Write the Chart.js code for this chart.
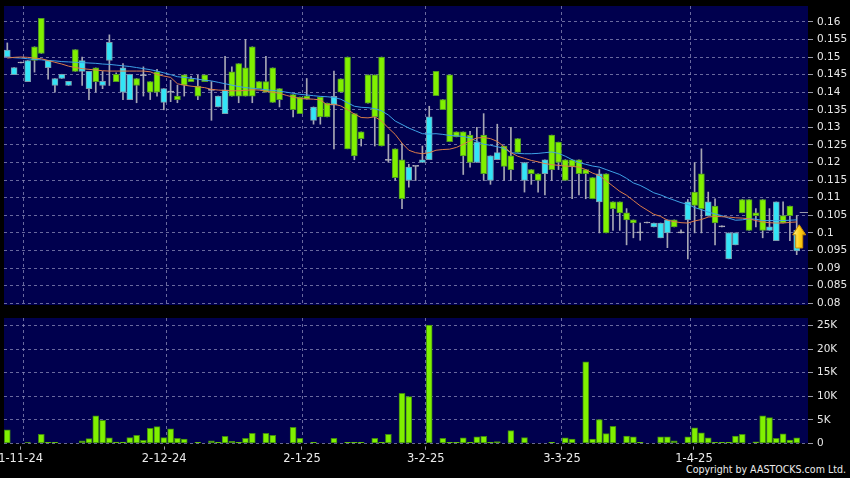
<!DOCTYPE html>
<html>
<head>
<meta charset="utf-8">
<script src="https://cdn.jsdelivr.net/npm/chart.js@4.4.1/dist/chart.umd.min.js"></script>
<style>
  html, body { margin:0; padding:0; background:#000; width:850px; height:478px; overflow:hidden; }
  #p1 { position:absolute; left:0; top:0; width:850px; height:312px; z-index:2; }
  #p2 { position:absolute; left:0; top:310px; width:850px; height:168px; z-index:1; }
  #cr { position:absolute; left:686px; top:464px; font:10px "DejaVu Sans"; color:#ececec; white-space:nowrap; transform-origin:0 0; }
</style>
</head>
<body>
<div id="p1"><canvas id="c1"></canvas></div>
<div id="p2"><canvas id="c2"></canvas></div>
<div id="cr">Copyright by AASTOCKS.com Ltd.</div>
<script>
// ---------------- DATA (one entry per trading slot; null = no trade) ----------------
const openP = [
 .152,.147,.1483,.149,.149,.151,.149,.1439,.1451,.1431,
 .1459,.149,.1459,.143,.1431,.1542,.143,.1469,.1451,.1419,
 .1447,.140,.140,.141,.140,.1379,.142,.143,.1389,.143,
 .1405,.1389,.1407,.1389,.1389,.1389,.1389,.141,.140,.1371,
 .1379,null,.135,.1339,.138,.1358,.133,.133,.1388,.140,
 .1239,.1219,.1268,.1369,.133,.1247,.1206,.1157,.1097,.1187,
 .1189,.1208,.133,.139,.135,.1259,.1273,.1219,.120,.1258,
 .1168,.1219,.1228,.1189,.118,.1229,.120,.1168,.1149,.1208,
 .118,.120,.1149,.1189,.1168,.1168,.1097,.1168,.100,.1069,
 .1057,.1037,.1028,.100,.1028,.1028,.1028,.1037,.1017,.100,
 .1088,.1078,.1069,.1088,.1028,.1017,.100,.100,.1057,.1007,
 .1049,.1007,.1017,.1088,.1028,.1049,.1007];
const highP = [
 .154,.147,.1483,.149,.1529,.161,.149,.1439,.1451,.1431,
 .1521,.150,.1459,.1469,.1459,.1563,.1455,.1481,.1451,.1439,
 .1472,.143,.1465,.141,.1434,.142,.1449,.1445,.1448,.1449,
 .143,.1389,.1502,.1472,.1481,.155,.1529,.143,.1502,.1469,
 .141,null,.1393,.1386,.1439,.1358,.1386,.1369,.146,.1438,
 .150,.1339,.1287,.1449,.1449,.150,.128,.1239,.1254,.1195,
 .1189,.1247,.136,.1459,.1379,.1449,.1287,.1287,.1289,.130,
 .1339,.1219,.1309,.1247,.130,.1268,.120,.118,.1168,.1208,
 .1278,.1258,.1208,.1208,.1208,.118,.1157,.118,.1168,.1088,
 .1088,.1069,.1037,.1028,.1028,.1028,.1028,.1037,.1037,.1009,
 .1095,.120,.1239,.1116,.1097,.1017,.100,.100,.1095,.1095,
 .1069,.1095,.1069,.1088,.1088,.1076,.1049];
const lowP = [
 .150,.145,.1483,.143,.1457,.151,.1437,.140,.1439,.1419,
 .1459,.1419,.1379,.140,.141,.1419,.143,.1379,.1379,.137,
 .1389,.1379,.1389,.135,.1373,.137,.1389,.143,.1379,.143,
 .132,.1358,.1339,.1389,.137,.1389,.137,.141,.140,.1371,
 .1358,null,.133,.1339,.138,.1309,.1309,.133,.1239,.140,
 .1239,.1208,.1247,.1369,.1247,.1247,.1201,.1149,.1069,.113,
 .1149,.120,.1208,.139,.135,.1259,.1273,.1166,.1187,.120,
 .1149,.1138,.1208,.1149,.1149,.1229,.1116,.1138,.1116,.1108,
 .1149,.118,.1149,.1097,.1108,.1097,.1097,.100,.100,.1007,
 .1007,.0966,.0986,.0979,.1028,.1017,.0986,.0958,.1017,.100,
 .0926,.100,.100,.1048,.0966,.1017,.0926,.0966,.1057,.1007,
 .1017,.0986,.1007,.0978,.1028,.0978,.0938];
const closeP = [
 .150,.145,.1483,.143,.1529,.161,.147,.1419,.1439,.1419,
 .1521,.1459,.141,.1469,.1419,.149,.1451,.140,.1379,.1439,
 .1447,.143,.1458,.1371,.140,.1389,.1449,.1438,.1417,.1449,
 .1405,.1358,.1339,.1458,.1481,.1469,.1529,.143,.143,.1469,
 .141,null,.1393,.1386,.1389,.132,.1386,.1369,.1363,.1438,
 .150,.1339,.1287,.1449,.1449,.150,.1206,.1239,.1208,.1149,
 .1189,.120,.1208,.1459,.1379,.1449,.1287,.1287,.1278,.120,
 .1278,.1149,.1208,.1247,.1219,.1268,.1149,.118,.1168,.1168,
 .1278,.1258,.1208,.1208,.1208,.118,.1157,.1088,.1168,.1088,
 .1088,.1057,.1037,.100,.1028,.1017,.0986,.100,.1037,.100,
 .1037,.1116,.1168,.1048,.1076,.1017,.0926,.0966,.1095,.1095,
 .1057,.1095,.1007,.0978,.1049,.1076,.0949];
const volume = [
 2840,0,0,150,0,1920,200,200,0,0,
 0,500,1000,5820,4900,1140,280,280,1200,1700,
 640,3200,3550,1200,3050,1070,920,0,200,0,
 500,200,1490,430,200,1070,2130,0,2130,1700,
 0,0,3400,1070,0,200,0,0,1070,0,
 200,200,200,0,1070,200,1920,0,10650,9940,
 0,0,25140,0,1070,200,200,1140,200,1350,
 1490,200,350,0,2700,0,1200,0,0,0,
 200,0,1140,920,0,17330,920,5040,2060,3620,
 0,1560,1350,200,0,0,1350,1350,500,0,
 1350,3270,2200,1140,200,200,200,1560,1920,0,
 300,5820,5470,1070,1990,710,1140];
const ma10 = [
 .1497,.1499,.1500,.1499,.1497,.1495,.1490,.1485,.1480,.1474,
 .1470,.1467,.1465,.1463,.1461,.1460,.1460,.1460,.1460,.1460,
 .1460,.1458,.1450,.1446,.1442,.1424,.1420,.1417,.1415,.1413,
 .1408,.1406,.1405,.1404,.1404,.1405,.1407,.1406,.1403,.1400,
 .1397,.1391,.1386,.1382,.1381,.1380,.1378,.1364,.1366,.1361,
 .1350,.1338,.1328,.1327,.1330,.1318,.1298,.1280,.1255,.1235,
 .1228,.1225,.1228,.1235,.1237,.1238,.1243,.1252,.1262,.1270,
 .1271,.1268,.1260,.1245,.1228,.1218,.1212,.1206,.1202,.1197,
 .1194,.1192,.1190,.1189,.1187,.1180,.1170,.1163,.1148,.1133,
 .1118,.1107,.1092,.1077,.1065,.1053,.1047,.1036,.1032,.1029,
 .1028,.1034,.1038,.1045,.1047,.1046,.1045,.1043,.1042,.1040,
 .1035,.1031,.1029,.1028,.1028,.1030,.1031];
const ma20 = [
 .1500,.1498,.1497,.1495,.1493,.1492,.1490,.1489,.1487,.1486,
 .1485,.1484,.1483,.1482,.1480,.1479,.1477,.1475,.1473,.1470,
 .1467,.1464,.1460,.1455,.1450,.1444,.1442,.1440,.1437,.1434,
 .1432,.1428,.1424,.1420,.1416,.1413,.1411,.1409,.1407,.1405,
 .1403,.1400,.1397,.1394,.1392,.1390,.1388,.1387,.1385,.1380,
 .1370,.1360,.1357,.1356,.1353,.1347,.1335,.1318,.1308,.1298,
 .1290,.1282,.1281,.1282,.1280,.1277,.1276,.1274,.1270,.1260,
 .1252,.1249,.1245,.1240,.1228,.1226,.1225,.1225,.1226,.1228,
 .1230,.1226,.1218,.1208,.1200,.1195,.1190,.1187,.1180,.1173,
 .1166,.1155,.1142,.1135,.1125,.1114,.1108,.1100,.1093,.1086,
 .1081,.1072,.1066,.1059,.1054,.1049,.1042,.1036,.1037,.1040,
 .1039,.1035,.1035,.1035,.1035,.1036,.1037];

// axis ticks / labels
const priceTicks = [0.08,0.085,0.09,0.095,0.1,0.105,0.11,0.115,0.12,0.125,0.13,0.135,0.14,0.145,0.15,0.155,0.16];
const volTicks = [0,5000,10000,15000,20000,25000];
const volTickText = ['0','5K','10K','15K','20K','25K'];
const dateTickSlots = [1.95, 23.05, 43.3, 61.5, 81.5, 100.9];
const dateTickText = ['1-11-24','2-12-24','2-1-25','3-2-25','3-3-25','1-4-25'];
const monthGridSlots = [2.45, 23.45, 43.45, 61.45, 81.5, 100.45];
const arrowSlot = 116, arrowTop = 0.1023, arrowBottom = 0.0957;
const lastMark = 0.1058;

// ---------------- STYLE ----------------
const NAVY = '#00004e';
const GRID = 'rgba(140,140,185,0.75)';
const UPF = '#80f000', UPB = '#4f9a22';
const DNF = '#33e4f6', DNB = '#7a9cae';
const DOJI = '#b4b4bc';
const WICK = '#a6a6b4';
const XMIN = -0.485, XMAX = 117.66;
const FONT = 'DejaVu Sans';

Chart.defaults.font.family = FONT;
Chart.defaults.color = '#e8e8e8';

const bgPlugin = {
  id: 'bg',
  beforeDraw(c) {
    const { ctx, chartArea: a } = c;
    ctx.save(); ctx.fillStyle = NAVY;
    ctx.fillRect(a.left, a.top, a.right - a.left, a.bottom - a.top);
    ctx.restore();
  }
};

const arrowPlugin = {
  id: 'arrow',
  afterDatasetsDraw(c) {
    const { ctx } = c;
    const xs = c.scales.x, ys = c.scales.y;
    const cx = xs.getPixelForValue(arrowSlot) + 2.5;
    const yT = ys.getPixelForValue(arrowTop), yB = ys.getPixelForValue(arrowBottom);
    const hw = 6.5, sw = 3.5, hh = 10;
    ctx.save();
    ctx.strokeStyle = '#9a9aaa'; ctx.lineWidth = 1;
    const ly = Math.round(ys.getPixelForValue(lastMark)) + 0.5;
    ctx.beginPath(); ctx.moveTo(xs.getPixelForValue(arrowSlot) + 3, ly); ctx.lineTo(c.chartArea.right, ly); ctx.stroke();
    const g = ctx.createLinearGradient(cx - hw, 0, cx + hw, 0);
    g.addColorStop(0, '#fff59a'); g.addColorStop(0.5, '#ffd21a'); g.addColorStop(1, '#e7a400');
    ctx.fillStyle = g; ctx.strokeStyle = '#c88a00'; ctx.lineWidth = 1;
    ctx.beginPath();
    ctx.moveTo(cx, yT);
    ctx.lineTo(cx + hw, yT + hh);
    ctx.lineTo(cx + sw, yT + hh);
    ctx.lineTo(cx + sw, yB);
    ctx.lineTo(cx - sw, yB);
    ctx.lineTo(cx - sw, yT + hh);
    ctx.lineTo(cx - hw, yT + hh);
    ctx.closePath(); ctx.fill(); ctx.stroke();
    ctx.restore();
  }
};

const idx = openP.map((_, i) => i);
const valid = idx.filter(i => openP[i] !== null);
const colFill = i => closeP[i] > openP[i] ? UPF : (closeP[i] < openP[i] ? DNF : DOJI);
const colBord = i => closeP[i] > openP[i] ? UPB : (closeP[i] < openP[i] ? DNB : DOJI);

function noPad(s) { s.paddingLeft = 0; s.paddingRight = 0; }
function gridAxis() {
  return {
    type: 'linear', min: XMIN, max: XMAX, position: 'bottom', offset: false,
    afterBuildTicks: s => { s.ticks = monthGridSlots.map(v => ({ value: v })); },
    afterFit: s => { s.height = 0; noPad(s); },
    ticks: { display: false },
    grid: { color: GRID, lineWidth: 1, drawTicks: false, offset: false },
    border: { display: false, dash: [3, 3] }
  };
}
function yAxisBase(ticks, fmt, min, max) {
  return {
    position: 'right', min, max,
    afterBuildTicks: s => { s.ticks = ticks.map(v => ({ value: v })); },
    afterFit: s => { s.width = 42; s.paddingTop = 0; s.paddingBottom = 0; },
    ticks: { callback: fmt, padding: 4, color: '#e8e8e8', font: { size: 10.5, family: FONT } },
    grid: { color: GRID, lineWidth: 1, tickColor: '#9a9aa6', tickLength: 5, drawTicks: true },
    border: { display: false, dash: [3, 3] }
  };
}

new Chart(document.getElementById('c1'), {
  type: 'bar',
  data: {
    datasets: [
      { type: 'line', label: 'MA10', order: 0, data: idx.map(i => ({ x: i, y: ma10[i] })),
        borderColor: '#dc7c48', borderWidth: 1, pointRadius: 0, tension: 0 },
      { type: 'line', label: 'MA20', order: 0, data: idx.map(i => ({ x: i, y: ma20[i] })),
        borderColor: '#3ea2e6', borderWidth: 1, pointRadius: 0, tension: 0 },
      { label: 'body', order: 1, grouped: false, data: valid.map(i => ({ x: i, y: [openP[i], closeP[i]] })),
        backgroundColor: valid.map(colFill), borderColor: valid.map(colBord),
        borderWidth: 1, borderSkipped: false, barThickness: 6, minBarLength: 1 },
      { label: 'wick', order: 2, grouped: false, data: valid.map(i => ({ x: i, y: [lowP[i], highP[i]] })),
        backgroundColor: WICK, borderWidth: 0, barThickness: 1, minBarLength: 1 }
    ]
  },
  options: {
    responsive: true, maintainAspectRatio: false, animation: false,
    layout: { padding: { left: 4, top: 6, right: 0, bottom: 7 } },
    plugins: { legend: { display: false }, tooltip: { enabled: false } },
    scales: {
      x: gridAxis(),
      y: yAxisBase(priceTicks, v => String(+v.toFixed(3)), 0.0795, 0.1645)
    }
  },
  plugins: [bgPlugin, arrowPlugin]
});

new Chart(document.getElementById('c2'), {
  type: 'bar',
  data: {
    datasets: [
      { label: 'vol', data: idx.map(i => ({ x: i, y: volume[i] })),
        backgroundColor: UPF, borderColor: '#3f8a10', borderWidth: 1, borderSkipped: false, barThickness: 6 }
    ]
  },
  options: {
    responsive: true, maintainAspectRatio: false, animation: false,
    layout: { padding: { left: 4, top: 8, right: 0, bottom: 0 } },
    plugins: { legend: { display: false }, tooltip: { enabled: false } },
    scales: {
      x: {
        type: 'linear', min: XMIN, max: XMAX, position: 'bottom', offset: false,
        afterBuildTicks: s => { s.ticks = dateTickSlots.map(v => ({ value: v })); },
        afterFit: s => { s.height = 34.7; noPad(s); },
        ticks: { callback: (v, k) => dateTickText[k], maxRotation: 0, autoSkip: false, padding: 2,
                 color: '#ececec', font: { size: 11.5, family: FONT } },
        grid: { drawOnChartArea: false, drawTicks: true, tickLength: 7, tickColor: '#9a9aa6', offset: false,
                tickBorderDash: [0, 3.4, 3.3, 10] },
        border: { display: false }
      },
      xg: gridAxis(),
      y: yAxisBase(volTicks, (v, k) => volTickText[k], 0, 26640)
    }
  },
  plugins: [bgPlugin]
});

const cr = document.getElementById('cr');
const w = cr.getBoundingClientRect().width;
cr.style.transform = 'scaleX(' + (160 / w) + ')';
</script>
</body>
</html>
